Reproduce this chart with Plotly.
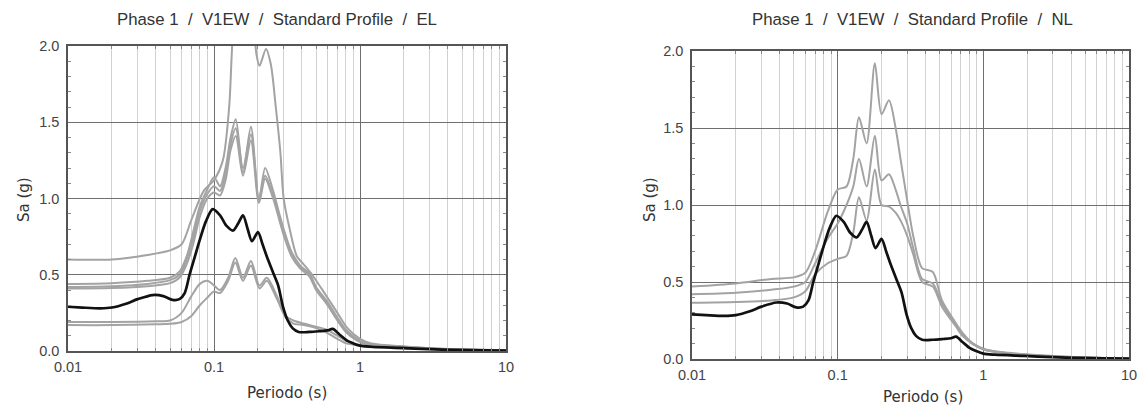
import plotly.graph_objects as go

# ---------------- data: spectral acceleration Sa (g) vs period T (s) ----------------
panel_titles = ["Phase 1  /  V1EW  /  Standard Profile  /  EL",
                "Phase 1  /  V1EW  /  Standard Profile  /  NL"]
x_title = "Periodo (s)"
y_title = "Sa (g)"
x_tick_vals = [0.01, 0.1, 1, 10]
x_tick_text = ["0.01", "0.1", "1", "10"]
y_tick_vals = [0.0, 0.5, 1.0, 1.5, 2.0]
y_tick_text = ["0.0", "0.5", "1.0", "1.5", "2.0"]

# mean / target spectrum (black), same in both panels
T_mean = [0.01, 0.0125, 0.0166, 0.02, 0.025, 0.03, 0.038, 0.045, 0.052, 0.058, 0.063, 0.068,
          0.074, 0.08, 0.088, 0.098, 0.11, 0.122, 0.135, 0.147, 0.158, 0.17, 0.182, 0.2,
          0.215, 0.23, 0.255, 0.275, 0.297, 0.32, 0.345, 0.38, 0.45, 0.53, 0.6, 0.65, 0.72,
          0.81, 0.9, 1.0, 1.2, 1.9, 3.0, 4.5, 7.0, 10.0]
Sa_mean = [0.29, 0.285, 0.28, 0.285, 0.31, 0.34, 0.367, 0.36, 0.335, 0.34, 0.38, 0.5,
           0.62, 0.73, 0.85, 0.93, 0.89, 0.82, 0.79, 0.84, 0.89, 0.8, 0.72, 0.78,
           0.7, 0.62, 0.51, 0.43, 0.29, 0.2, 0.15, 0.125, 0.125, 0.13, 0.135, 0.145, 0.11,
           0.07, 0.05, 0.035, 0.028, 0.02, 0.012, 0.007, 0.004, 0.003]

# EL records (grey)
T_el_a = [0.01, 0.02, 0.035, 0.05, 0.06, 0.07, 0.085, 0.1, 0.115, 0.127, 0.135, 0.15, 0.175,
          0.195, 0.205, 0.227, 0.245, 0.265, 0.285, 0.3, 0.33, 0.37, 0.41, 0.47, 0.58, 0.7,
          0.82, 1.0, 1.2, 2.0, 4.0, 10.0]
Sa_el_a = [0.6, 0.6, 0.63, 0.66, 0.7, 0.86, 1.05, 1.12, 1.25, 1.6, 2.1, 2.5, 2.4,
           1.95, 1.87, 1.98, 1.88, 1.6, 1.3, 1.0, 0.8, 0.62, 0.57, 0.5, 0.37, 0.25,
           0.15, 0.08, 0.05, 0.03, 0.013, 0.006]

T_el_b = [0.01, 0.02, 0.035, 0.05, 0.058, 0.065, 0.072, 0.08, 0.09, 0.1, 0.11, 0.12, 0.13,
          0.141, 0.158, 0.179, 0.203, 0.224, 0.254, 0.28, 0.3, 0.34, 0.39, 0.45, 0.5, 0.59,
          0.7, 0.8, 0.95, 1.1, 1.9, 4.0, 10.0]
Sa_el_b = [0.44, 0.445, 0.46, 0.48, 0.52, 0.62, 0.78, 0.95, 1.06, 1.14, 1.08, 1.2, 1.4,
           1.52, 1.17, 1.47, 0.99, 1.2, 1.05, 0.9, 0.8, 0.65, 0.56, 0.51, 0.42, 0.33,
           0.22, 0.14, 0.08, 0.05, 0.03, 0.013, 0.006]
Sa_el_c = [0.42, 0.425, 0.44, 0.465, 0.5, 0.6, 0.74, 0.92, 1.03, 1.08, 1.05, 1.16, 1.36,
           1.46, 1.2, 1.42, 1.0, 1.15, 1.02, 0.88, 0.78, 0.63, 0.55, 0.5, 0.41, 0.32,
           0.21, 0.13, 0.075, 0.048, 0.028, 0.012, 0.005]
Sa_el_d = [0.41, 0.413, 0.425, 0.445, 0.48, 0.57, 0.7, 0.88, 1.0, 1.04, 1.02, 1.12, 1.32,
           1.41, 1.15, 1.38, 0.97, 1.13, 1.0, 0.86, 0.76, 0.62, 0.54, 0.49, 0.4, 0.31,
           0.2, 0.125, 0.07, 0.045, 0.026, 0.011, 0.005]

T_el_low = [0.01, 0.02, 0.04, 0.05, 0.06, 0.07, 0.08, 0.09, 0.1, 0.11, 0.125, 0.14, 0.158,
            0.179, 0.205, 0.23, 0.27, 0.31, 0.35, 0.41, 0.5, 0.59, 0.7, 0.81, 1.0, 1.1,
            2.0, 5.0, 10.0]
Sa_el_e = [0.19, 0.19, 0.195, 0.2, 0.25, 0.36, 0.44, 0.46, 0.43, 0.4, 0.48, 0.61, 0.48,
           0.59, 0.43, 0.48, 0.36, 0.23, 0.2, 0.18, 0.16, 0.14, 0.1, 0.065, 0.04, 0.03,
           0.018, 0.008, 0.004]
Sa_el_f = [0.17, 0.17, 0.175, 0.178, 0.19, 0.23, 0.3, 0.35, 0.39, 0.38, 0.46, 0.58, 0.46,
           0.56, 0.41, 0.46, 0.34, 0.22, 0.18, 0.17, 0.15, 0.12, 0.08, 0.05, 0.035, 0.028,
           0.016, 0.007, 0.003]

# NL records (grey)
T_nl = [0.01, 0.02, 0.035, 0.05, 0.06, 0.07, 0.085, 0.1, 0.115, 0.128, 0.14, 0.158, 0.18,
        0.2, 0.225, 0.25, 0.27, 0.3, 0.33, 0.38, 0.45, 0.52, 0.65, 0.72, 0.85, 1.05, 1.5,
        2.2, 5.0, 10.0]
Sa_nl_a = [0.47, 0.49, 0.52, 0.53, 0.56, 0.7, 0.95, 1.1, 1.12, 1.3, 1.57, 1.4, 1.92,
           1.59, 1.68, 1.5, 1.3, 1.03, 0.8, 0.59, 0.565, 0.38, 0.23, 0.17, 0.1, 0.06, 0.04,
           0.027, 0.01, 0.004]
Sa_nl_b = [0.42, 0.43, 0.45, 0.47, 0.5, 0.62, 0.78, 0.88, 1.0, 1.12, 1.3, 1.12, 1.45,
           1.16, 1.2, 1.1, 1.0, 0.88, 0.72, 0.52, 0.49, 0.36, 0.22, 0.16, 0.1, 0.058, 0.038,
           0.025, 0.009, 0.004]
Sa_nl_c = [0.365, 0.37, 0.38, 0.4, 0.44, 0.55, 0.62, 0.65, 0.67, 0.82, 1.05, 0.9, 1.23,
           1.0, 0.99, 0.95, 0.9, 0.8, 0.68, 0.5, 0.47, 0.34, 0.21, 0.15, 0.095, 0.055, 0.036,
           0.024, 0.009, 0.004]

el_records = [(T_el_a, Sa_el_a), (T_el_b, Sa_el_b), (T_el_b, Sa_el_c), (T_el_b, Sa_el_d),
              (T_el_low, Sa_el_e), (T_el_low, Sa_el_f)]
nl_records = [(T_nl, Sa_nl_a), (T_nl, Sa_nl_b), (T_nl, Sa_nl_c)]

# ---------------- styling ----------------
GREY = "#a3a3a3"
MAJOR_GRID = "#6f6f6f"
MINOR_GRID = "#d2d2d2"
AXIS = "#555555"
TICK_FONT = dict(family="Liberation Sans, Arial", size=14.5, color="#444444")
LABEL_FONT = dict(family="DejaVu Sans, Verdana", size=15, color="#333333")
TITLE_FONT = dict(family="Liberation Sans, Arial", size=16.8, color="#333333")

W, H = 1143, 410
# plot boxes in pixels: (left, right, top, bottom)
boxes = [(68, 506, 46, 351), (692, 1129, 51, 359)]
title_left_px = [115, 750]
xlabel_pos_px = [(287, 393), (923, 397)]
ylabel_pos_px = [(24, 200), (650, 200)]

minor_x = [m * 10 ** k for k in (-2, -1, 0) for m in range(2, 10)]
minor_y = [i / 10 for i in range(21) if i % 5]

fig = go.Figure()

for idx, records in enumerate([el_records, nl_records]):
    xa = "x" if idx == 0 else "x2"
    ya = "y" if idx == 0 else "y2"
    for t, sa in records:
        fig.add_trace(go.Scatter(x=t, y=sa, mode="lines", xaxis=xa, yaxis=ya,
                                 line=dict(color=GREY, width=2, shape="spline", smoothing=0.8),
                                 showlegend=False, hoverinfo="skip"))
    fig.add_trace(go.Scatter(x=T_mean, y=Sa_mean, mode="lines", xaxis=xa, yaxis=ya,
                             line=dict(color="#111111", width=2.7, shape="spline", smoothing=0.8),
                             showlegend=False, hoverinfo="skip"))

layout = dict(width=W, height=H, margin=dict(l=0, r=0, t=0, b=0, autoexpand=False),
              plot_bgcolor="white", paper_bgcolor="white", annotations=[])

for idx, (l, r, t, b) in enumerate(boxes):
    sx = "" if idx == 0 else "2"
    layout["xaxis" + sx] = dict(
        type="log", range=[-2, 1], domain=[l / W, r / W], anchor="y" + sx,
        automargin=False,
        tickvals=x_tick_vals, ticktext=x_tick_text, tickfont=TICK_FONT,
        showgrid=True, gridcolor=MAJOR_GRID, gridwidth=1, zeroline=False,
        showline=True, linecolor=AXIS, linewidth=1.5, mirror="allticks",
        ticks="", ticklabelstandoff=2,
        minor=dict(tickvals=minor_x, showgrid=True, gridcolor=MINOR_GRID, gridwidth=1.2,
                   ticks="inside", ticklen=3, tickcolor="#888888"))
    layout["yaxis" + sx] = dict(
        range=[0, 2], domain=[1 - b / H, 1 - t / H], anchor="x" + sx,
        automargin=False,
        tickvals=y_tick_vals, ticktext=y_tick_text, tickfont=TICK_FONT,
        showgrid=True, gridcolor=MAJOR_GRID, gridwidth=1, zeroline=False,
        showline=True, linecolor=AXIS, linewidth=1.5, mirror="allticks",
        ticks="", ticklabelstandoff=4,
        minor=dict(tickvals=minor_y, showgrid=False, ticks="inside", ticklen=3,
                   tickcolor="#888888"))
    xlx, xly = xlabel_pos_px[idx]
    ylx, yly = ylabel_pos_px[idx]
    layout["annotations"] += [
        dict(text=panel_titles[idx], x=title_left_px[idx] / W, y=1 - 19 / H,
             xref="paper", yref="paper", showarrow=False, font=TITLE_FONT,
             xanchor="left", yanchor="middle"),
        dict(text=x_title, x=xlx / W, y=1 - xly / H, xref="paper", yref="paper",
             showarrow=False, font=LABEL_FONT, xanchor="center", yanchor="middle"),
        dict(text=y_title, x=ylx / W, y=1 - yly / H, xref="paper", yref="paper",
             showarrow=False, font=LABEL_FONT, textangle=-90,
             xanchor="center", yanchor="middle"),
    ]

fig.update_layout(**layout)
fig.write_html("out.html")
